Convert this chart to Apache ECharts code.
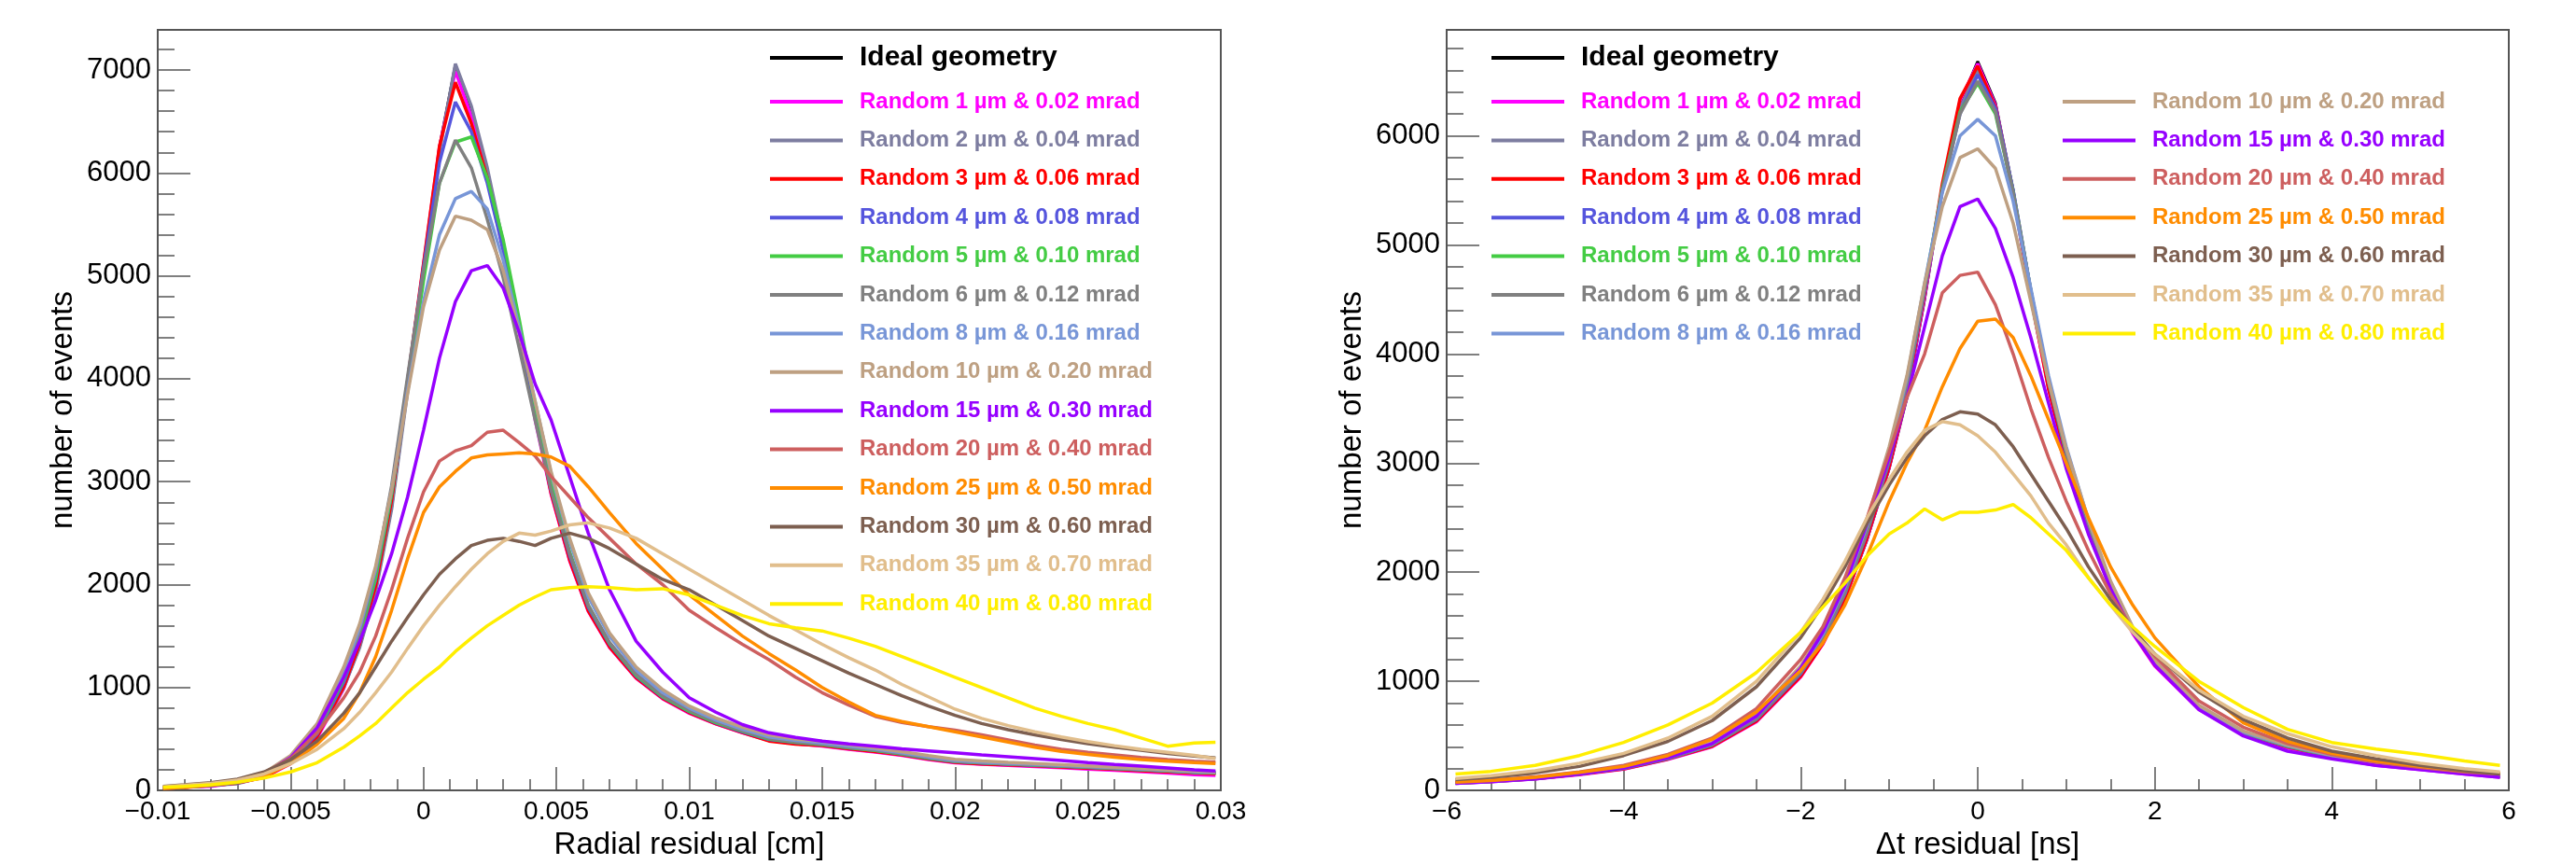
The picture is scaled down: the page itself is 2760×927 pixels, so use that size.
<!DOCTYPE html>
<html>
<head>
<meta charset="utf-8">
<title>residuals</title>
<script src="https://cdn.jsdelivr.net/npm/echarts@6/dist/echarts.min.js"></script>
<style>
html,body{margin:0;padding:0;background:#fff;}
#main{width:2760px;height:927px;}
</style>
</head>
<body>
<div id="main"></div>
<script>
// ---- legend entries / colours
var names = ['Ideal geometry',
  'Random 1 \u00b5m & 0.02 mrad', 'Random 2 \u00b5m & 0.04 mrad', 'Random 3 \u00b5m & 0.06 mrad',
  'Random 4 \u00b5m & 0.08 mrad', 'Random 5 \u00b5m & 0.10 mrad', 'Random 6 \u00b5m & 0.12 mrad',
  'Random 8 \u00b5m & 0.16 mrad', 'Random 10 \u00b5m & 0.20 mrad', 'Random 15 \u00b5m & 0.30 mrad',
  'Random 20 \u00b5m & 0.40 mrad', 'Random 25 \u00b5m & 0.50 mrad', 'Random 30 \u00b5m & 0.60 mrad',
  'Random 35 \u00b5m & 0.70 mrad', 'Random 40 \u00b5m & 0.80 mrad'];
var colors = ['#000000', '#ff00ff', '#7d7da0', '#ff0000', '#5555dd', '#44cc44', '#808080',
  '#7896d7', '#bea082', '#9600ff', '#cd5f5f', '#ff8c00', '#7d5f50', '#e1be8c', '#ffee00'];

// ---- left pad: radial residual [cm]
var xRadial = [-0.0098,-0.009,-0.008,-0.007,-0.006,-0.005,-0.004,-0.003,-0.0024,-0.0018,-0.0012,-0.0006,0,
  0.0006,0.0012,0.0018,0.0024,0.003,0.0036,0.0042,0.0048,0.0055,0.0062,0.007,0.008,0.009,0.010,0.011,0.012,
  0.013,0.014,0.015,0.016,0.017,0.018,0.019,0.020,0.021,0.022,0.023,0.024,0.025,0.026,0.027,0.028,0.029,0.0298];
var radIdeal = [20,30,45,70,130,270,520,1000,1400,1950,2750,3900,5050,6250,7050,6600,6000,5300,4500,3650,2900,2250,1750,1400,1100,900,760,650,565,490,462,440,410,385,350,310,275,262,252,242,232,222,210,198,185,175,168];
var rad1 = [25,35,40,75,125,260,510,990,1420,1980,2800,3950,5100,6250,6990,6550,5950,5250,4450,3600,2880,2230,1740,1390,1090,890,750,645,560,485,455,432,400,372,340,300,268,255,244,232,220,208,196,182,168,152,145];
var rad2 = [20,30,50,65,135,280,530,1000,1390,1930,2730,3870,5000,6200,7060,6650,6050,5320,4520,3680,2920,2270,1770,1410,1110,910,770,660,575,500,470,448,418,390,356,316,282,268,256,246,236,226,214,202,190,178,170];
var rad3 = [22,28,48,72,128,265,525,1010,1430,1990,2820,3980,5120,6260,6880,6480,5950,5280,4480,3640,2890,2240,1745,1395,1095,895,755,648,562,480,450,436,405,378,345,305,272,258,248,238,228,216,204,192,180,168,162];
var rad4 = [25,32,46,75,140,285,550,1050,1480,2050,2880,3980,5080,6100,6690,6400,5900,5250,4480,3660,2920,2280,1780,1420,1110,905,765,655,570,495,466,444,414,388,352,312,280,266,254,244,234,224,212,200,188,176,170];
var rad5 = [24,33,50,78,145,295,570,1080,1500,2070,2880,3920,4950,5900,6300,6350,5950,5350,4580,3740,2980,2320,1800,1430,1120,910,770,660,575,500,468,446,415,388,354,314,282,268,256,246,236,225,214,202,190,176,168];
var rad6 = [26,35,52,80,150,300,580,1100,1540,2130,2960,4020,5050,5900,6320,6050,5550,4980,4300,3600,2920,2300,1800,1440,1130,920,780,668,580,505,472,450,420,392,358,318,285,270,258,248,238,228,216,204,192,178,172];
var rad8 = [28,38,55,85,160,320,610,1150,1580,2150,2920,3880,4750,5400,5750,5820,5650,5150,4500,3780,3080,2420,1880,1500,1170,950,800,685,595,520,485,462,430,402,366,326,292,276,264,254,244,232,220,208,196,182,176];
var rad10 = [30,40,60,90,170,340,650,1200,1620,2180,2920,3850,4700,5250,5580,5540,5450,5050,4450,3780,3100,2450,1920,1530,1200,980,820,705,615,540,500,476,444,414,378,338,302,286,272,262,250,238,226,214,200,188,180];
var rad15 = [25,35,55,85,160,320,610,1100,1450,1850,2300,2850,3500,4200,4750,5050,5100,4880,4450,3950,3600,3050,2500,1950,1450,1150,900,760,640,560,515,480,452,430,405,385,365,345,328,310,290,270,252,236,218,200,190];
var rad20 = [30,40,60,100,170,310,560,900,1150,1500,1950,2450,2900,3200,3300,3350,3480,3500,3380,3250,3050,2850,2650,2450,2200,2000,1750,1580,1420,1270,1100,950,830,720,660,620,585,540,490,440,400,370,345,320,300,285,275];
var rad25 = [20,30,50,80,140,260,450,700,950,1300,1750,2250,2700,2950,3100,3230,3260,3270,3280,3270,3240,3150,2950,2700,2400,2150,1900,1700,1500,1330,1170,1000,860,730,670,620,570,520,470,420,380,350,322,300,285,270,262];
var rad30 = [40,55,75,110,180,300,480,750,950,1200,1450,1680,1900,2100,2250,2380,2430,2450,2420,2380,2450,2500,2450,2350,2200,2050,1950,1800,1650,1500,1380,1260,1140,1030,920,820,730,650,590,540,495,455,420,390,360,335,315];
var rad35 = [35,50,70,100,160,260,400,600,760,950,1150,1380,1600,1800,1980,2150,2300,2420,2500,2480,2520,2580,2600,2550,2450,2300,2150,2000,1850,1700,1560,1420,1290,1170,1030,910,790,700,630,570,520,475,435,400,370,340,310];
var rad40 = [30,40,55,80,120,180,270,420,530,650,800,950,1080,1200,1350,1480,1600,1700,1800,1880,1950,1970,1980,1970,1950,1960,1900,1800,1700,1620,1580,1550,1480,1400,1300,1200,1100,1000,900,800,720,650,590,510,430,460,468];

// ---- right pad: delta t residual [ns]
var xTime = [-5.9,-5.5,-5,-4.5,-4,-3.5,-3,-2.5,-2,-1.75,-1.5,-1.25,-1,-0.8,-0.6,-0.4,-0.2,0,0.2,0.4,0.6,0.8,1,1.25,1.5,1.75,2,2.5,3,3.5,4,4.5,5,5.5,5.9];
var timeIdeal = [70,85,110,150,200,290,410,640,1050,1350,1750,2300,2950,3600,4500,5500,6300,6680,6300,5500,4550,3700,3050,2400,1850,1450,1150,750,520,400,310,240,200,160,130];
var time1 = [65,80,105,145,195,285,400,630,1040,1340,1750,2310,2960,3620,4520,5520,6320,6660,6280,5480,4520,3680,3030,2390,1840,1440,1140,740,510,390,300,230,190,150,120];
var time2 = [72,88,112,152,205,295,415,650,1060,1370,1780,2330,2990,3650,4560,5520,6250,6600,6260,5500,4580,3720,3060,2410,1860,1460,1160,760,525,405,315,245,205,165,135];
var time3 = [68,82,108,148,198,288,405,635,1045,1345,1760,2320,2970,3640,4560,5560,6340,6640,6260,5460,4520,3680,3040,2400,1850,1450,1150,750,520,398,308,238,198,158,128];
var time4 = [70,86,110,152,202,292,415,650,1070,1380,1800,2360,3010,3680,4580,5500,6200,6560,6250,5500,4580,3740,3080,2420,1870,1460,1160,755,525,402,312,242,202,162,132];
var time5 = [66,82,108,150,205,295,420,660,1090,1400,1820,2380,3040,3720,4620,5520,6220,6480,6200,5480,4580,3750,3100,2440,1880,1470,1165,760,528,405,312,240,198,158,125];
var time6 = [72,88,113,154,206,296,420,660,1080,1390,1810,2370,3030,3700,4600,5500,6200,6500,6220,5480,4580,3760,3100,2440,1880,1470,1170,765,530,408,316,246,206,166,136];
var time8 = [70,86,112,155,210,302,430,680,1110,1430,1860,2430,3100,3780,4650,5480,6000,6150,6000,5400,4600,3800,3150,2480,1910,1490,1180,770,535,410,318,246,205,164,134];
var time10 = [72,88,115,158,214,308,440,700,1140,1460,1900,2480,3150,3800,4650,5350,5800,5880,5700,5200,4480,3750,3130,2480,1920,1500,1190,780,545,418,325,252,210,170,140];
var time15 = [65,80,105,150,205,300,430,680,1120,1450,1880,2450,3050,3600,4250,4900,5350,5420,5150,4700,4150,3550,2950,2350,1850,1450,1150,740,500,360,290,230,190,150,120];
var time20 = [80,95,125,170,230,330,480,750,1200,1500,1950,2500,3100,3600,4000,4560,4720,4750,4450,4000,3500,3050,2650,2200,1800,1480,1230,820,580,430,330,260,210,170,150];
var time25 = [75,90,120,165,220,320,470,720,1100,1350,1700,2150,2650,3000,3300,3700,4050,4300,4320,4150,3800,3400,3000,2500,2050,1700,1400,950,620,450,340,270,220,180,160];
var time30 = [100,120,160,220,320,450,640,950,1400,1700,2050,2450,2800,3050,3250,3400,3470,3450,3350,3150,2900,2650,2400,2050,1750,1480,1250,900,650,480,360,290,230,180,150];
var time35 = [110,135,180,250,340,480,680,1000,1450,1750,2100,2500,2850,3100,3300,3380,3350,3250,3100,2900,2700,2450,2250,1950,1700,1450,1250,920,680,520,400,320,250,200,170];
var time40 = [150,175,230,320,440,600,800,1080,1450,1680,1900,2150,2350,2450,2580,2480,2550,2550,2570,2620,2500,2350,2200,1950,1700,1500,1320,1000,760,560,440,380,330,270,230];

var radial = [radIdeal, rad1, rad2, rad3, rad4, rad5, rad6, rad8, rad10, rad15, rad20, rad25, rad30, rad35, rad40];
var timing = [timeIdeal, time1, time2, time3, time4, time5, time6, time8, time10, time15, time20, time25, time30, time35, time40];

function pairs(xs, ys) {
  return xs.map(function (x, i) { return [x, ys[i]]; });
}
function minus(s) { return s.replace('-', '\u2212'); }

var frame = '#555';
var font = 'Liberation Sans';

function xAxisCfg(grid, min, max, step, minorSplit, title, fmt) {
  return {
    gridIndex: grid, type: 'value', min: min, max: max, interval: step,
    axisLine: {show: true, onZero: false, lineStyle: {color: frame, width: 2}},
    axisTick: {inside: true, length: 25, lineStyle: {color: frame, width: 1.5}},
    minorTick: {show: true, splitNumber: minorSplit, length: 12, lineStyle: {color: frame, width: 1.5}},
    splitLine: {show: false},
    axisLabel: {fontFamily: font, fontSize: 28, color: '#000', margin: 9, formatter: fmt},
    name: title, nameLocation: 'middle', nameGap: 37,
    nameTextStyle: {fontFamily: font, fontSize: 33, color: '#000'}
  };
}
function yAxisCfg(grid, max) {
  return {
    gridIndex: grid, type: 'value', position: 'left', min: 0, max: max, interval: 1000,
    axisLine: {show: true, onZero: false, lineStyle: {color: frame, width: 2}},
    axisTick: {inside: true, length: 35, lineStyle: {color: frame, width: 1.5}},
    splitLine: {show: false},
    axisLabel: {fontFamily: font, fontSize: 31, color: '#000', margin: 7, showMaxLabel: false,
      formatter: function (v) { return String(v); }},
    name: 'number of events', nameLocation: 'middle', nameGap: 85, nameRotate: 90,
    nameTextStyle: {fontFamily: font, fontSize: 33, color: '#000'}
  };
}
// second axis only for the short 200-step ticks
function yMinorCfg(grid, max) {
  return {
    gridIndex: grid, type: 'value', position: 'left', offset: 0, min: 0, max: max, interval: 200,
    axisLine: {show: false, onZero: false},
    axisTick: {inside: true, length: 18, lineStyle: {color: frame, width: 1.5}},
    axisLabel: {show: false}, splitLine: {show: false}
  };
}

function legendCfg(list, left, top, big) {
  return {
    orient: 'vertical', left: left, top: top, padding: 0,
    icon: 'rect', itemWidth: 78, itemHeight: 4, itemGap: big ? 0 : 11.4,
    textStyle: {fontFamily: font, fontWeight: 'bold', fontSize: big ? 30 : 24,
      lineHeight: big ? 36 : 30, padding: [0, 0, 0, 13]},
    data: list.map(function (i) {
      return {name: names[i], textStyle: {color: colors[i]}};
    })
  };
}

var series = [];
names.forEach(function (nm, i) {
  series.push({
    type: 'line', name: nm, xAxisIndex: 0, yAxisIndex: 0,
    data: pairs(xRadial, radial[i]), symbol: 'none',
    lineStyle: {width: i === 0 ? 3 : 3.5, color: colors[i]}, itemStyle: {color: colors[i]}
  });
});
names.forEach(function (nm, i) {
  series.push({
    type: 'line', name: nm, xAxisIndex: 1, yAxisIndex: 1,
    data: pairs(xTime, timing[i]), symbol: 'none',
    lineStyle: {width: i === 0 ? 3 : 3.5, color: colors[i]}, itemStyle: {color: colors[i]}
  });
});

var chart = echarts.init(document.getElementById('main'));
chart.setOption({
  animation: false,
  backgroundColor: '#fff',
  grid: [
    {left: 169, top: 32, width: 1139, height: 826, show: true, borderColor: frame, borderWidth: 2},
    {left: 1550, top: 32, width: 1138, height: 826, show: true, borderColor: frame, borderWidth: 2}
  ],
  xAxis: [
    xAxisCfg(0, -0.01, 0.03, 0.005, 5, 'Radial residual [cm]', function (v) {
      return minus(String(Math.round(v * 1000) / 1000));
    }),
    xAxisCfg(1, -6, 6, 2, 4, '\u0394t residual [ns]', function (v) {
      return minus(String(Math.round(v)));
    })
  ],
  yAxis: [yAxisCfg(0, 7390), yAxisCfg(1, 6970), yMinorCfg(0, 7390), yMinorCfg(1, 6970)],
  legend: [
    legendCfg([0], 825, 44, true),
    legendCfg([1,2,3,4,5,6,7,8,9,10,11,12,13,14], 825, 94, false),
    legendCfg([0], 1598, 44, true),
    legendCfg([1,2,3,4,5,6,7], 1598, 94, false),
    legendCfg([8,9,10,11,12,13,14], 2210, 94, false)
  ],
  series: series
});
</script>
</body>
</html>
